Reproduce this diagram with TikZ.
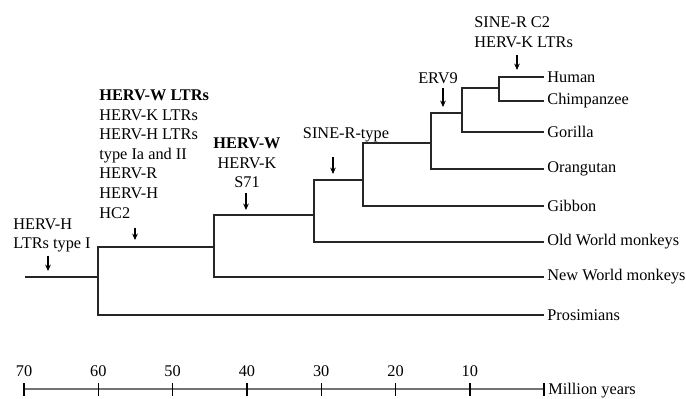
\documentclass[tikz,border=0pt]{standalone}
\usepackage{fontspec}
\setmainfont{Liberation Serif}
\usetikzlibrary{arrows.meta}

\begin{document}
\begin{tikzpicture}[
  x=0.5pt, y=-0.5pt,
  txt/.style={inner sep=0pt, font=\fontsize{8.15}{9.8}\selectfont},
  leaf/.style={txt, inner xsep=1.5pt, anchor=west},
  note/.style={txt, align=left, anchor=base west},
  cnote/.style={txt, align=center, anchor=base},
  branch/.style={line width=0.75pt, black!85},
  pointer/.style={-{Stealth[length=3.2pt,width=2.8pt]}, line width=0.6pt},
  axisline/.style={line width=0.8pt, black!55},
  tickmark/.style={line width=0.7pt}
]
\useasboundingbox (0,0) rectangle (686,398);

% leaves
\node[leaf] (human)  at (544,77)  {Human};
\node[leaf] (chimp)  at (544,101) {Chimpanzee};
\node[leaf] (gorilla) at (544,132) {Gorilla};
\node[leaf] (orang)  at (544,169) {Orangutan};
\node[leaf] (gibbon) at (544,206) {Gibbon};
\node[leaf] (owm)    at (544,242) {Old World monkeys};
\node[leaf] (nwm)    at (544,277) {New World monkeys};
\node[leaf] (prosim) at (544,315) {Prosimians};

% splits
\coordinate (root) at (25,277);
\coordinate (n60) at (98,277);
\coordinate (n44) at (214,247);
\coordinate (n31) at (314,215);
\coordinate (n24) at (363,180);
\coordinate (n15) at (431,143);
\coordinate (n11) at (462,113);
\coordinate (n6)  at (499,88);

\draw[branch] (root) -- (n60);
\draw[branch] (n60) |- (n44);
\draw[branch] (n60) |- (prosim.west);
\draw[branch] (n44) |- (n31);
\draw[branch] (n44) |- (nwm.west);
\draw[branch] (n31) |- (n24);
\draw[branch] (n31) |- (owm.west);
\draw[branch] (n24) |- (n15);
\draw[branch] (n24) |- (gibbon.west);
\draw[branch] (n15) |- (n11);
\draw[branch] (n15) |- (orang.west);
\draw[branch] (n11) |- (n6);
\draw[branch] (n11) |- (gorilla.west);
\draw[branch] (n6) |- (human.west);
\draw[branch] (n6) |- (chimp.west);

% insertion events (base = last line)
\node[note] (ltrI) at (13,248.6) {HERV-H\\LTRs type I};
\node[note] (hc2) at (99,218.1) {\textbf{HERV-W LTRs}\\HERV-K LTRs\\HERV-H LTRs\\type Ia and II\\HERV-R\\HERV-H\\HC2};
\node[cnote] (s71) at (247,187.7) {\textbf{HERV-W}\\HERV-K\\S71};
\node[cnote] (sine) at (346,138.5) {SINE-R-type};
\node[cnote] (erv9) at (438,83.5) {ERV9};
\node[note] (sinec2) at (474,47.1) {SINE-R C2\\HERV-K LTRs};

\coordinate (pI)   at (48,271);
\coordinate (pHC)  at (135,240);
\coordinate (pW)   at (246,210);
\coordinate (pS)   at (333,174);
\coordinate (pE)   at (443,107);
\coordinate (pC2)  at (517,70);

\draw[pointer, shorten <=1.5pt] (ltrI.south -| pI) -- (pI);
\draw[pointer, shorten <=4.5pt] (hc2.south -| pHC) -- (pHC);
\draw[pointer, shorten <=2.5pt] (s71.south -| pW) -- (pW);
\draw[pointer, shorten <=7.5pt] (sine.south -| pS) -- (pS);
\draw[pointer, shorten <=2pt] (erv9.south -| pE) -- (pE);
\draw[pointer, shorten <=3.5pt] (sinec2.south -| pC2) -- (pC2);

% time axis
\coordinate (a70) at (24,389);
\coordinate (a0) at (544,389);
\draw[axisline] (a70) -- (a0);
\foreach \t in {70,60,...,10} {
  \draw[tickmark] ({24+(70-\t)*7.43},383) -- ({24+(70-\t)*7.43},396);
  \node[txt, anchor=south] (lab\t) at ({24+(70-\t)*7.43},377.5) {\t};
}
\draw[tickmark] (544,383) -- (544,396);
\node[txt, anchor=west, xshift=2pt, yshift=-1pt] (myr) at (a0) {Million years};
\end{tikzpicture}
\end{document}
